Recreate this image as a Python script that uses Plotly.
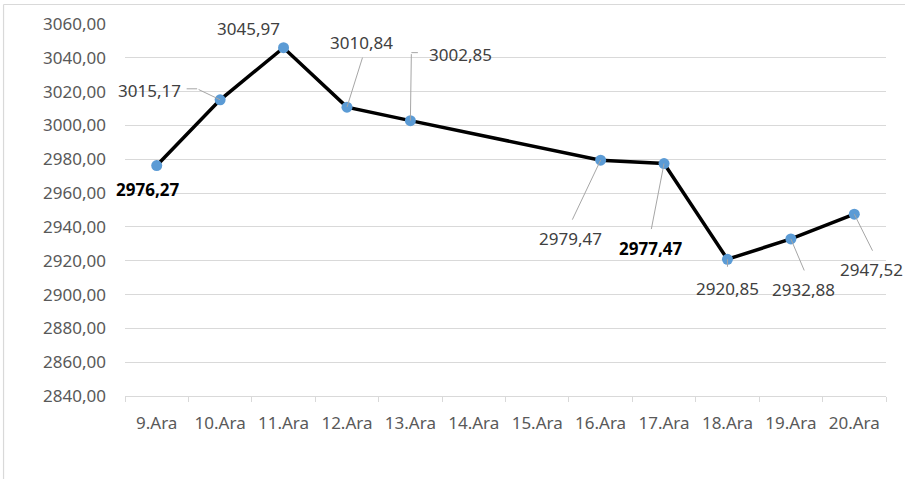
import plotly.graph_objects as go

categories = ["9.Ara", "10.Ara", "11.Ara", "12.Ara", "13.Ara", "14.Ara",
              "15.Ara", "16.Ara", "17.Ara", "18.Ara", "19.Ara", "20.Ara"]
values = [2976.27, 3015.17, 3045.97, 3010.84, 3002.85, None,
          None, 2979.47, 2977.47, 2920.85, 2932.88, 2947.52]
label_texts = ["2976,27", "3015,17", "3045,97", "3010,84", "3002,85", None,
               None, "2979,47", "2977,47", "2920,85", "2932,88", "2947,52"]

# label placement (pixel offsets of text centre from the point, screen y down)
label_offsets = {0: (-9, 24), 1: (-71, -9), 2: (-35, -19), 3: (15, -65), 4: (50, -66),
                 7: (-30, 78), 8: (-14, 85), 9: (0, 29), 10: (13, 51), 11: (17, 55)}
# leader line start offsets from the point
leader_offsets = {1: (-23, -11), 3: (16, -51), 4: (1, -68), 7: (-29, 61),
                  8: (-13, 67), 9: (0, 9), 10: (14, 33), 11: (19, 38)}
# short horizontal stubs: (anchor dx, anchor dy, length)
stub_offsets = {1: (-23, -11, -12), 4: (1, -68, 8)}
bold_labels = {0, 8}

FONT = "Noto Sans"
FS = 17
LABEL_GREY = "#404040"
AXIS_GREY = "#595959"
GRID = "#d9d9d9"

fig = go.Figure()
fig.add_trace(go.Scatter(
    x=categories, y=values, mode="lines+markers", connectgaps=True,
    line=dict(color="black", width=3.5),
    marker=dict(color="#5b9bd5", size=11),
    showlegend=False, hoverinfo="skip"))

annotations = []
for i, txt in enumerate(label_texts):
    if txt is None:
        continue
    if i in leader_offsets:
        lx, ly = leader_offsets[i]
        annotations.append(dict(x=categories[i], y=values[i], text="", showarrow=True,
                                ax=lx, ay=ly, axref="pixel", ayref="pixel",
                                arrowhead=0, arrowwidth=1, arrowcolor="#a6a6a6",
                                standoff=0, startstandoff=0))
    if i in stub_offsets:
        sx, sy, sl = stub_offsets[i]
        annotations.append(dict(x=categories[i], y=values[i], text="", showarrow=True,
                                xshift=sx, yshift=-sy, ax=sl, ay=0,
                                arrowhead=0, arrowwidth=1, arrowcolor="#a6a6a6",
                                standoff=0, startstandoff=0))
    dx, dy = label_offsets[i]
    bold = i in bold_labels
    annotations.append(dict(
        x=categories[i], y=values[i], showarrow=False,
        text=f"<b>{txt}</b>" if bold else txt,
        xshift=dx, yshift=-dy, xanchor="center", yanchor="middle",
        font=dict(family=FONT, size=FS, color="black" if bold else LABEL_GREY)))

# outer chart-area border (left and top edges visible in the frame)
border = [
    dict(type="line", xref="paper", yref="paper", x0=-0.1596, x1=1.1, y0=1.0524, y1=1.0524,
         line=dict(color=GRID, width=1.2)),
    dict(type="line", xref="paper", yref="paper", x0=-0.1596, x1=-0.1596, y0=-0.3, y1=1.0524,
         line=dict(color=GRID, width=1.2)),
]

fig.update_layout(
    width=905, height=479,
    margin=dict(l=125, r=19, t=24, b=83, autoexpand=False),
    paper_bgcolor="white", plot_bgcolor="white",
    separators=",.",
    font=dict(family=FONT, size=FS, color=AXIS_GREY),
    annotations=annotations,
    shapes=border,
    xaxis=dict(type="category", range=[-0.5, 11.5], showgrid=False,
               showline=True, linecolor=GRID, linewidth=1,
               ticks="outside", ticklen=5, tickcolor=GRID, tickson="boundaries",
               ticklabelstandoff=12,
               tickfont=dict(family=FONT, size=FS, color=AXIS_GREY),
               zeroline=False, fixedrange=True),
    yaxis=dict(range=[2840, 3060], dtick=20, tick0=2840, tickformat=".2f",
               showgrid=True, gridcolor=GRID, gridwidth=1, zeroline=False,
               showline=False, ticks="", ticklabelstandoff=18,
               tickfont=dict(family=FONT, size=FS, color=AXIS_GREY),
               fixedrange=True),
)

fig.write_html("out.html", config={"displayModeBar": False},
               post_script="document.body.style.margin='0';document.body.style.overflow='hidden';")
